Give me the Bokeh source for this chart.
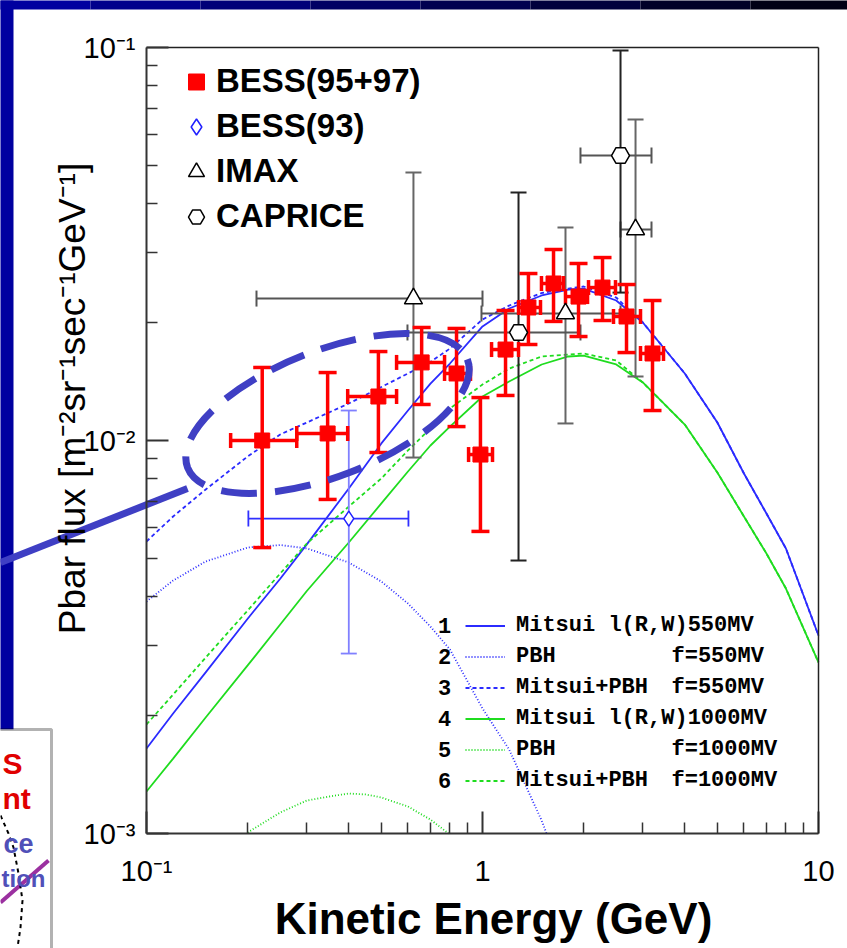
import numpy as np
from bokeh.plotting import figure
from bokeh.models import (Range1d, Label, BoxAnnotation, Legend, LegendItem, LogAxis,
                          CustomJSTickFormatter, FixedTicker, ColumnDataSource)
from bokeh.embed import file_html
from bokeh.resources import INLINE

# ---------------- data ----------------
energy = [0.1, 0.12, 0.15, 0.2, 0.25, 0.3, 0.4, 0.5, 0.6, 0.7, 0.8, 1.0, 1.2, 1.5,
          1.8, 2.0, 2.5, 3.0, 4.0, 5.0, 6.0, 7.0, 8.0, 10.0]
mitsui_550 = [1.645e-3, 2.02e-3, 2.57e-3, 3.52e-3, 4.45e-3, 5.44e-3, 7.55e-3, 9.83e-3,
              1.192e-2, 1.396e-2, 1.570e-2, 1.951e-2, 2.167e-2, 2.339e-2, 2.422e-2,
              2.436e-2, 2.271e-2, 1.997e-2, 1.481e-2, 1.111e-2, 8.24e-3, 6.52e-3,
              5.31e-3, 3.19e-3]
mitsui_pbh_550 = [5.534e-3, 6.407e-3, 7.504e-3, 9.106e-3, 1.036e-2, 1.111e-2, 1.242e-2,
                  1.368e-2, 1.481e-2, 1.584e-2, 1.714e-2, 2.032e-2, 2.205e-2, 2.373e-2,
                  2.436e-2, 2.465e-2, 2.311e-2, 1.997e-2, 1.481e-2, 1.111e-2, 8.24e-3,
                  6.52e-3, 5.31e-3, 3.19e-3]
mitsui_1000 = [1.279e-3, 1.551e-3, 1.973e-3, 2.677e-3, 3.402e-3, 4.140e-3, 5.502e-3,
               6.916e-3, 8.340e-3, 9.711e-3, 1.085e-2, 1.294e-2, 1.413e-2, 1.561e-2,
               1.636e-2, 1.645e-2, 1.561e-2, 1.405e-2, 1.098e-2, 8.291e-3, 6.407e-3,
               5.159e-3, 4.201e-3, 2.724e-3]
mitsui_pbh_1000 = [1.894e-3, 2.258e-3, 2.804e-3, 3.694e-3, 4.587e-3, 5.469e-3, 6.79e-3,
                   8.008e-3, 9.432e-3, 1.073e-2, 1.206e-2, 1.388e-2, 1.524e-2, 1.636e-2,
                   1.655e-2, 1.665e-2, 1.598e-2, 1.405e-2, 1.098e-2, 8.291e-3, 6.407e-3,
                   5.159e-3, 4.201e-3, 2.724e-3]
pbh_550_energy = [0.1, 0.12, 0.15, 0.2, 0.25, 0.3, 0.4, 0.5, 0.6, 0.7, 0.8, 1.0, 1.2, 1.5, 1.6]
pbh_550 = [3.893e-3, 4.403e-3, 4.921e-3, 5.341e-3, 5.420e-3, 5.313e-3, 4.893e-3, 4.377e-3,
           3.848e-3, 3.362e-3, 2.938e-3, 2.080e-3, 1.636e-3, 1.079e-3, 9.32e-4]
pbh_1000_energy = [0.2, 0.25, 0.3, 0.35, 0.4, 0.45, 0.5, 0.6, 0.7, 0.8]
pbh_1000 = [1.006e-3, 1.131e-3, 1.213e-3, 1.242e-3, 1.264e-3, 1.257e-3, 1.235e-3,
            1.171e-3, 1.085e-3, 9.94e-4]

bess_energy = [0.221, 0.346, 0.490, 0.659, 0.837, 0.986, 1.171, 1.370, 1.627, 1.931, 2.276, 2.683, 3.206]
bess_flux = [0.0100, 0.01042, 0.01294, 0.01580, 0.01481, 0.00921, 0.01704, 0.02180, 0.02509,
             0.02324, 0.02450, 0.02068, 0.01665]
bess_flux_hi = [0.01534, 0.01489, 0.01684, 0.01939, 0.01928, 0.01286, 0.02142, 0.02660,
                0.03062, 0.02821, 0.02921, 0.02494, 0.02271]
bess_flux_lo = [0.00534, 0.00708, 0.00932, 0.01235, 0.01085, 0.00587, 0.01302, 0.01755,
                0.02009, 0.01839, 0.02020, 0.01674, 0.01192]
bess_energy_lo = [0.178, 0.280, 0.397, 0.555, 0.771, 0.909, 1.064, 1.280, 1.498, 1.766, 2.068, 2.454, 2.953]
bess_energy_hi = [0.280, 0.397, 0.555, 0.771, 0.921, 1.071, 1.280, 1.488, 1.742, 2.054, 2.488, 2.953, 3.457]

bess93_energy = [0.40]
bess93_flux = [0.00633]
bess93_flux_hi = [0.01192]
bess93_flux_lo = [0.00287]
bess93_energy_lo = [0.201]
bess93_energy_hi = [0.602]

imax_energy = [0.623, 1.766, 2.854]
imax_flux = [0.02297, 0.02104, 0.03443]
imax_flux_hi = [0.04807, 0.03483, 0.06559]
imax_flux_lo = [0.00905, 0.01105, 0.01455]
imax_energy_lo = [0.2125, 0.993, 2.575]
imax_energy_hi = [1.0, 2.575, 3.184]

caprice_energy = [1.280, 2.575]
caprice_flux = [0.01883, 0.05311]
caprice_flux_hi = [0.04276, 0.0983]
caprice_flux_lo = [0.00495, 0.02379]
caprice_energy_lo = [0.598, 1.957]
caprice_energy_hi = [1.957, 3.184]

x_major_ticks = [0.1, 1.0, 10.0]
x_minor_ticks = [0.2, 0.3, 0.4, 0.5, 0.6, 0.7, 0.8, 0.9, 2, 3, 4, 5, 6, 7, 8, 9]
y_major_ticks = [1e-3, 1e-2, 1e-1]
y_minor_ticks = [2e-3, 3e-3, 4e-3, 5e-3, 6e-3, 7e-3, 8e-3, 9e-3,
                 2e-2, 3e-2, 4e-2, 5e-2, 6e-2, 7e-2, 8e-2, 9e-2]

legend_markers = ["BESS(95+97)", "BESS(93)", "IMAX", "CAPRICE"]
model_numbers = ["1", "2", "3", "4", "5", "6"]
model_left = ["Mitsui l(R,W)550MV", "PBH", "Mitsui+PBH", "Mitsui l(R,W)1000MV", "PBH", "Mitsui+PBH"]
model_right = ["", "f=550MV", "f=550MV", "", "f=1000MV", "f=1000MV"]

# ---------------- page layout helpers (page pixel -> data) ----------------
W, H = 847, 948

def dx(px):
    return 10 ** ((px - 482.0) / 336.0)

def dy(py):
    return 10 ** (-2.0 - (py - 440.0) / 393.0)

def clip_below(xs, ys, ymin):
    lx, ly, lm = np.log10(xs), np.log10(ys), np.log10(ymin)
    ox, oy = [], []
    for i in range(len(xs)):
        if i > 0 and (ly[i - 1] - lm) * (ly[i] - lm) < 0:
            t = (lm - ly[i - 1]) / (ly[i] - ly[i - 1])
            ox.append(10 ** (lx[i - 1] + t * (lx[i] - lx[i - 1])))
            oy.append(ymin)
        if ly[i] >= lm:
            ox.append(xs[i]); oy.append(ys[i])
    return ox, oy

BLUE = "#2b2bff"
GREEN = "#1fdc1f"
RED = "#ff0000"
SLIDE_BLUE = "#3f3fc4"
FONT = "Liberation Sans"

p = figure(width=W, height=H, x_axis_type="log", y_axis_type="log",
           x_range=Range1d(dx(0), dx(W)), y_range=Range1d(dy(H), dy(0)),
           output_backend="svg", toolbar_location=None, min_border=0,
           background_fill_color="white", border_fill_color="white")
p.title.visible = False
p.outline_line_color = None
p.grid.visible = False

fmt = CustomJSTickFormatter(code="""
const e = Math.round(Math.log10(tick));
if (e === 0) return "1";
if (e === 1) return "10";
const sup = {"-": "\\u207b", "0": "\\u2070", "1": "\\u00b9", "2": "\\u00b2", "3": "\\u00b3"};
return "10" + String(e).split("").map(c => sup[c] || c).join("");
""")

for ax, loc, bnd, maj, mnr in ((p.xaxis[0], y_major_ticks[0], (x_major_ticks[0], x_major_ticks[-1]),
                                x_major_ticks, x_minor_ticks),
                               (p.yaxis[0], x_major_ticks[0], (y_major_ticks[0], y_major_ticks[-1]),
                                y_major_ticks, y_minor_ticks)):
    ax.fixed_location = loc
    ax.bounds = bnd
    ax.ticker = FixedTicker(ticks=maj, minor_ticks=mnr)
    ax.formatter = fmt
    ax.axis_line_color = "#333333"
    ax.axis_line_width = 2
    ax.major_tick_in = 22
    ax.major_tick_out = 0
    ax.minor_tick_in = 11
    ax.minor_tick_out = 0
    ax.major_tick_line_color = "#333333"
    ax.major_tick_line_width = 2
    ax.minor_tick_line_color = "#333333"
    ax.minor_tick_line_width = 1.5
    ax.major_label_text_font = FONT
    ax.major_label_text_font_size = "29px"
    ax.major_label_text_color = "black"
p.xaxis[0].major_label_standoff = 21
p.yaxis[0].major_label_standoff = 11

top_ax = LogAxis(fixed_location=y_major_ticks[-1], bounds=(x_major_ticks[0], x_major_ticks[-1]),
                 ticker=FixedTicker(ticks=[]), axis_line_color="#222222", axis_line_width=1.5,
                 major_label_text_font_size="0px")
right_ax = LogAxis(fixed_location=x_major_ticks[-1], bounds=(y_major_ticks[0], y_major_ticks[-1]),
                   ticker=FixedTicker(ticks=[]), axis_line_color="#222222", axis_line_width=1.5,
                   major_label_text_font_size="0px")
p.add_layout(top_ax, "above")
p.add_layout(right_ax, "right")

# ---------------- slide decorations ----------------
band_cols = ["#0000a0", "#00008c", "#000078", "#000064", "#000050", "#00003c", "#000028", "#000014"]
for i, c in enumerate(band_cols):
    p.add_layout(BoxAnnotation(left=dx(-20 + i * 110), right=dx(90 + i * 110), top=dy(-20), bottom=dy(9),
                               fill_color=c, fill_alpha=1, line_alpha=0, level="underlay"))
p.add_layout(BoxAnnotation(left=dx(-20), right=dx(13), top=dy(-20), bottom=dy(729),
                           fill_color="#0000a0", fill_alpha=1, line_alpha=0, level="underlay"))
p.add_layout(BoxAnnotation(left=dx(-20), right=dx(51), top=dy(729), bottom=dy(990),
                           fill_color="white", fill_alpha=1, line_color="black", line_width=3,
                           level="underlay"))

for txt, px, py, col, size in (("S", 2, 763, "#e00000", "30px"),
                               ("nt", 2, 798, "#e00000", "30px"),
                               ("ce", 3, 843, "#5050b8", "27px"),
                               ("tion", 1, 878, "#5050b8", "24px")):
    p.add_layout(Label(x=dx(px), y=dy(py), text=txt, text_color=col, text_font=FONT,
                       text_font_size=size, text_font_style="bold", text_align="left",
                       text_baseline="alphabetic"))

p.line(x=[dx(0), dx(48)], y=[dy(902), dy(860)], line_color="#9b30a0", line_width=4)
p.line(x=[dx(0), dx(8), dx(13), dx(18), dx(22), dx(20), dx(17)],
       y=[dy(815), dy(833), dy(847), dy(873), dy(900), dy(927), dy(947)],
       line_color="black", line_width=2, line_dash="4 4")

# ---------------- model curves ----------------
r1 = p.line(energy, mitsui_550, line_color=BLUE, line_width=1.8)
x2, y2 = clip_below(pbh_550_energy, pbh_550, y_major_ticks[0])
r2 = p.line(x2, y2, line_color=BLUE, line_width=1.8, line_dash="1 2")
r3 = p.line(energy, mitsui_pbh_550, line_color=BLUE, line_width=1.8, line_dash="4 3")
r4 = p.line(energy, mitsui_1000, line_color=GREEN, line_width=1.8)
x5, y5 = clip_below(pbh_1000_energy, pbh_1000, y_major_ticks[0])
r5 = p.line(x5, y5, line_color=GREEN, line_width=1.8, line_dash="1 2")
r6 = p.line(energy, mitsui_pbh_1000, line_color=GREEN, line_width=1.8, line_dash="4 3")

# ---------------- data points with error bars ----------------
def errbars(e, f, fhi, flo, elo, ehi, vcol, hcol, lw, vcap, hcap):
    src = ColumnDataSource(dict(e=e, f=f, fhi=fhi, flo=flo, elo=elo, ehi=ehi))
    p.segment(x0="e", y0="flo", x1="e", y1="fhi", source=src, line_color=vcol, line_width=lw)
    p.segment(x0="elo", y0="f", x1="ehi", y1="f", source=src, line_color=hcol, line_width=lw)
    p.scatter(x="e", y="fhi", source=src, marker="dash", size=vcap, line_color=vcol, line_width=lw)
    p.scatter(x="e", y="flo", source=src, marker="dash", size=vcap, line_color=vcol, line_width=lw)
    p.scatter(x="elo", y="f", source=src, marker="dash", angle=np.pi / 2, size=hcap,
              line_color=hcol, line_width=lw)
    p.scatter(x="ehi", y="f", source=src, marker="dash", angle=np.pi / 2, size=hcap,
              line_color=hcol, line_width=lw)
    return src

s_imax = errbars(imax_energy, imax_flux, imax_flux_hi, imax_flux_lo, imax_energy_lo, imax_energy_hi,
                 "#666666", "#555555", 2, 16, 16)
s_cap = errbars(caprice_energy, caprice_flux, caprice_flux_hi, caprice_flux_lo, caprice_energy_lo,
                caprice_energy_hi, "#222222", "#555555", 2, 16, 16)
s_b93 = errbars(bess93_energy, bess93_flux, bess93_flux_hi, bess93_flux_lo, bess93_energy_lo,
                bess93_energy_hi, "#8080ff", "#3030ff", 1.8, 16, 16)
s_bess = errbars(bess_energy, bess_flux, bess_flux_hi, bess_flux_lo, bess_energy_lo, bess_energy_hi,
                 RED, RED, 3.5, 18, 15)

r_imax = p.scatter(x="e", y="f", source=s_imax, marker="triangle", size=18, fill_color="white",
                   line_color="black", line_width=1.5)
r_cap = p.scatter(x="e", y="f", source=s_cap, marker="hex", size=18, fill_color="white",
                  line_color="black", line_width=1.5)
r_b93 = p.scatter(x="e", y="f", source=s_b93, marker="diamond", size=15, fill_color="white",
                  line_color="#2020ff", line_width=1.5)
r_bess = p.scatter(x="e", y="f", source=s_bess, marker="square", size=15, fill_color=RED,
                   line_color=RED)

# ---------------- slide overlay: dashed ellipse and pointer ----------------
ellipse_center = (dx(327), dy(413))
p.ellipse(x=[ellipse_center[0]], y=[ellipse_center[1]], width=300, height=126, angle=0.37,
          width_units="screen", height_units="screen", fill_color=None,
          line_color=SLIDE_BLUE, line_width=7, line_dash="36 18")
p.line(x=[dx(0), dx(187)], y=[dy(562), dy(488)], line_color=SLIDE_BLUE, line_width=7)

# ---------------- legends ----------------
leg1 = Legend(items=[LegendItem(label=legend_markers[0], renderers=[r_bess]),
                     LegendItem(label=legend_markers[1], renderers=[r_b93]),
                     LegendItem(label=legend_markers[2], renderers=[r_imax]),
                     LegendItem(label=legend_markers[3], renderers=[r_cap])],
              location=(176, H - 238.5), orientation="vertical", glyph_width=40, glyph_height=45,
              spacing=-15, padding=0, margin=0, label_standoff=0, label_height=20,
              label_text_font=FONT, label_text_font_size="33px", label_text_font_style="bold",
              label_text_color="black", background_fill_alpha=0, border_line_alpha=0)
p.add_layout(leg1)

leg2 = Legend(items=[LegendItem(label=t, renderers=[r]) for t, r in
                     zip(model_left, [r1, r2, r3, r4, r5, r6])],
              location=(465, H - 795.5), orientation="vertical", glyph_width=40, glyph_height=31,
              label_height=31, spacing=0, padding=0, margin=0, label_standoff=11,
              label_text_font="Liberation Mono", label_text_font_size="22px",
              label_text_font_style="bold", label_text_color="black",
              background_fill_alpha=0, border_line_alpha=0)
p.add_layout(leg2)

for k in range(6):
    row_y = dy(625 + 31 * k)
    p.add_layout(Label(x=dx(444), y=row_y, text=model_numbers[k], text_font="Liberation Mono",
                       text_font_size="22px", text_font_style="bold", text_align="center",
                       text_baseline="middle", text_color="black"))
    if model_right[k]:
        p.add_layout(Label(x=dx(671), y=row_y, text=model_right[k], text_font="Liberation Mono",
                           text_font_size="22px", text_font_style="bold", text_align="left",
                           text_baseline="middle", text_color="black"))

# ---------------- axis titles ----------------
p.add_layout(Label(x=dx(493), y=dy(918), text="Kinetic Energy (GeV)", text_font=FONT,
                   text_font_size="44px", text_font_style="bold", text_align="center",
                   text_baseline="alphabetic", text_color="black"))
p.add_layout(Label(x=dx(72), y=dy(398),
                   text="Pbar flux [m\u207b\u00b2sr\u207b\u00b9sec\u207b\u00b9GeV\u207b\u00b9]",
                   angle=np.pi / 2, text_font=FONT, text_font_size="37px", text_align="center",
                   text_baseline="alphabetic", text_color="black"))

with open("out.html", "w", encoding="utf-8") as fh:
    fh.write(file_html(p, INLINE))
